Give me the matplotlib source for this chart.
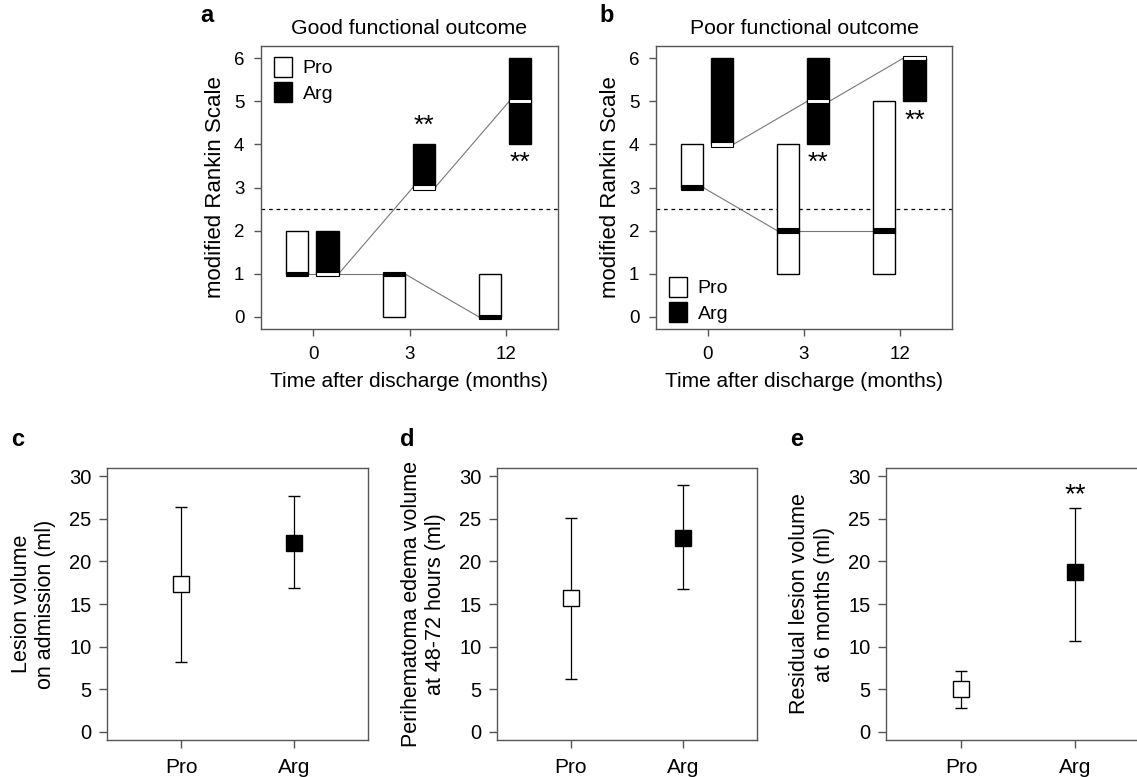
import matplotlib
matplotlib.use("Agg")
import matplotlib.pyplot as plt
from matplotlib.patches import Rectangle, Patch

plt.rcParams['font.family'] = ['Liberation Sans', 'DejaVu Sans']
plt.rcParams['font.size'] = 13

# mRS, time after discharge
time_labels = ['0', '3', '12']

# good functional outcome (range boxes + median)
good_pro_lo = [1, 0, 0]
good_pro_hi = [2, 1, 1]
good_pro_med = [1, 1, 0]
good_arg_lo = [1, 3, 4]
good_arg_hi = [2, 4, 6]
good_arg_med = [1, 3, 5]

# poor functional outcome
poor_pro_lo = [3, 1, 1]
poor_pro_hi = [4, 4, 5]
poor_pro_med = [3, 2, 2]
poor_arg_lo = [4, 4, 5]
poor_arg_hi = [6, 6, 6]
poor_arg_med = [4, 5, 6]

# significance marks (time index, y)
good_stars = [(1, 4.42), (2, 3.58)]
poor_stars = [(1, 3.58), (2, 4.55)]

# volumes (ml): mean and error bar ends
groups = ['Pro', 'Arg']
lesion_mean = [17.3, 22.2]
lesion_lo = [8.2, 16.9]
lesion_hi = [26.4, 27.7]
edema_mean = [15.7, 22.7]
edema_lo = [6.2, 16.7]
edema_hi = [25.1, 28.95]
resid_mean = [5.0, 18.7]
resid_lo = [2.8, 10.7]
resid_hi = [7.2, 26.2]

SPINE = '#555555'
W, H = 1137, 777


def px_axes(fig, left, top, right, bottom):
    return fig.add_axes([left / W, 1 - bottom / H, (right - left) / W, (bottom - top) / H])


def style(ax):
    for s in ax.spines.values():
        s.set_color(SPINE)
        s.set_linewidth(1.0)
    ax.tick_params(color=SPINE, width=1.0, length=5)


def draw_mrs(ax, pro_lo, pro_hi, pro_med, arg_lo, arg_hi, arg_med, stars):
    off_pro, off_arg, w, band = -0.165, 0.15, 0.23, 0.1
    n = len(pro_lo)
    # lines joining medians
    for i in range(n - 1):
        ax.plot([i + off_pro + w / 2, i + 1 + off_pro - w / 2], [pro_med[i], pro_med[i + 1]],
                color='#777777', lw=0.8, zorder=1)
        ax.plot([i + off_arg + w / 2, i + 1 + off_arg - w / 2], [arg_med[i], arg_med[i + 1]],
                color='#777777', lw=0.8, zorder=1)
    for i in range(n):
        x0 = i + off_pro - w / 2
        ax.add_patch(Rectangle((x0, pro_lo[i]), w, pro_hi[i] - pro_lo[i], fc='white', ec='black', lw=1, zorder=2))
        ax.add_patch(Rectangle((x0, pro_med[i] - band / 2), w, band, fc='black', ec='black', lw=0.8, zorder=3))
        x1 = i + off_arg - w / 2
        ax.add_patch(Rectangle((x1, arg_lo[i]), w, arg_hi[i] - arg_lo[i], fc='black', ec='black', lw=1, zorder=2))
        ax.add_patch(Rectangle((x1, arg_med[i] - band / 2), w, band, fc='white', ec='black', lw=0.8, zorder=3))
    for i, y in stars:
        ax.text(i + off_arg, y, '**', ha='center', va='center', fontsize=19)
    ax.axhline(2.5, color='black', lw=0.9, ls=(0, (3, 3)), zorder=0)
    ax.set_xlim(-0.54, n - 1 + 0.54)
    ax.set_ylim(-0.28, 6.28)
    ax.set_xticks(range(n))
    ax.set_xticklabels(time_labels, fontsize=13.5)
    ax.set_yticks(range(7))
    ax.tick_params(axis='y', labelsize=13.5)
    ax.set_ylabel('modified Rankin Scale', fontsize=16)
    ax.yaxis.set_label_coords(-0.118, 0.5)
    ax.set_xlabel('Time after discharge (months)', fontsize=15, labelpad=7)
    style(ax)
    ax.tick_params(axis='x', pad=7)
    ax.tick_params(axis='y', pad=7)


def draw_vol(ax, mean, lo, hi, ylabel, star=None):
    cols = ['white', 'black']
    for i in range(len(groups)):
        ax.errorbar(i, mean[i], yerr=[[mean[i] - lo[i]], [hi[i] - mean[i]]], fmt='s',
                    ms=12, mfc=cols[i], mec='black', mew=1, ecolor='black', elinewidth=0.9,
                    capsize=4, capthick=0.9)
    if star is not None:
        ax.text(star[0], star[1], '**', ha='center', va='center', fontsize=20)
    ax.set_xlim(-0.66, 1.66)
    ax.set_ylim(-0.94, 30.94)
    ax.set_xticks(range(len(groups)))
    ax.set_xticklabels(groups, fontsize=15)
    ax.set_yticks(range(0, 31, 5))
    ax.tick_params(axis='y', labelsize=14.5)
    ax.set_ylabel(ylabel, fontsize=15.5, linespacing=1.2)
    ax.yaxis.set_label_coords(-0.195, 0.5)
    style(ax)
    ax.tick_params(axis='x', pad=7, length=6)
    ax.tick_params(axis='y', pad=5, length=6)


fig = plt.figure(figsize=(W / 100, H / 100), dpi=100)

leg_kw = dict(frameon=False, handlelength=0.95, handleheight=1.15, handletextpad=0.55,
              labelspacing=0.25, borderaxespad=0.25, fontsize=14)
handles = [Patch(fc='white', ec='black', lw=1), Patch(fc='black', ec='black', lw=1)]

ax_a = px_axes(fig, 261, 46, 558, 329)
draw_mrs(ax_a, good_pro_lo, good_pro_hi, good_pro_med, good_arg_lo, good_arg_hi, good_arg_med, good_stars)
ax_a.set_title('Good functional outcome', pad=9, fontsize=15.3)
ax_a.legend(handles, groups, loc='upper left', bbox_to_anchor=(0, 1.005), **leg_kw)

ax_b = px_axes(fig, 656, 46, 952, 329)
draw_mrs(ax_b, poor_pro_lo, poor_pro_hi, poor_pro_med, poor_arg_lo, poor_arg_hi, poor_arg_med, poor_stars)
ax_b.set_title('Poor functional outcome', pad=9, fontsize=15.3)
ax_b.legend(handles, groups, loc='lower left', bbox_to_anchor=(0, -0.022), **leg_kw)

ax_c = px_axes(fig, 107, 468, 368, 740)
draw_vol(ax_c, lesion_mean, lesion_lo, lesion_hi, 'Lesion volume\non admission (ml)')
ax_d = px_axes(fig, 497, 468, 757, 740)
draw_vol(ax_d, edema_mean, edema_lo, edema_hi, 'Perihematoma edema volume\nat 48-72 hours (ml)')
ax_e = px_axes(fig, 886, 468, 1150, 740)
draw_vol(ax_e, resid_mean, resid_lo, resid_hi, 'Residual lesion volume\nat 6 months (ml)', star=(1, 27.8))

for letter, x, y in [('a', 207, 15), ('b', 607, 15), ('c', 18, 439), ('d', 407, 439), ('e', 797, 439)]:
    fig.text(x / W, 1 - y / H, letter, fontsize=17, fontweight='bold', ha='center', va='center')

fig.savefig('out.png', dpi=100)
